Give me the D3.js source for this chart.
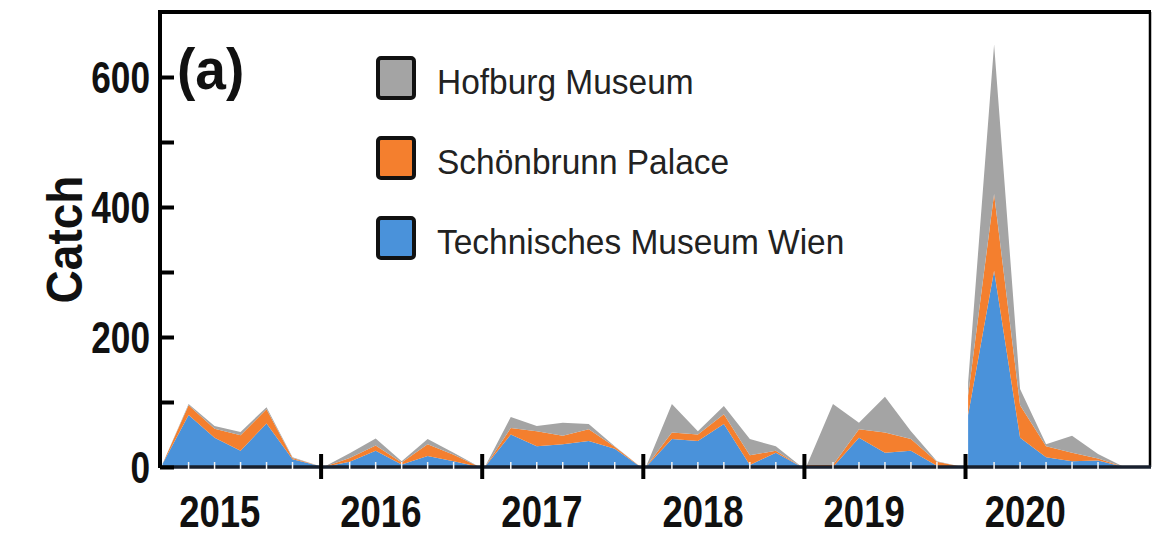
<!DOCTYPE html>
<html>
<head>
<meta charset="utf-8">
<script src="https://cdn.jsdelivr.net/npm/d3@7/dist/d3.min.js"></script>
<style>
  html, body { margin: 0; padding: 0; background: #fff; }
  svg { display: block; }
  text { font-family: "Liberation Sans", Arial, Helvetica, sans-serif; }
</style>
</head>
<body>
<svg id="chart" width="1156" height="537"></svg>
<script>
// Seasons shown on the x axis (one block of seven sampling points per year)
const years = ["2015", "2016", "2017", "2018", "2019", "2020"];
const pointsPerYear = 7;

// Catch per sampling point, one inner array per year
const technisches = [
  [5, 80, 45, 25, 67, 12, 2],
  [0, 8, 25, 4, 17, 9, 0],
  [0, 50, 32, 35, 40, 28, 0],
  [0, 43, 40, 66, 3, 22, 0],
  [0, 0, 45, 22, 25, 2, 0],
  [80, 302, 45, 15, 9, 10, 0]
];
const schoenbrunn = [
  [0, 15, 14, 24, 22, 2, 0],
  [0, 6, 8, 3, 18, 10, 0],
  [0, 10, 23, 13, 18, 3, 0],
  [0, 10, 10, 15, 15, 3, 0],
  [3, 3, 13, 31, 18, 6, 0],
  [30, 118, 50, 17, 13, 3, 0]
];
const hofburg = [
  [0, 2, 4, 5, 3, 1, 0],
  [0, 7, 11, 2, 8, 3, 0],
  [0, 17, 8, 20, 8, 1, 0],
  [0, 44, 5, 13, 25, 7, 0],
  [0, 94, 10, 55, 12, 1, 0],
  [20, 230, 25, 3, 26, 7, 0]
];

const seriesNames = ["Hofburg Museum", "Schönbrunn Palace", "Technisches Museum Wien"];
const seriesKeys = ["tech", "schoen", "hof"];
const colors = { hof: "#a4a4a4", schoen: "#f47f2e", tech: "#4a92da" };

const yTicks = [0, 100, 200, 300, 400, 500, 600];
const yLabelled = [0, 200, 400, 600];

const svg = d3.select("#chart");

// Layout
const mLeft = 160, mRight = 1150, mTop = 12, mBottom = 467;
const yearStep = 6.2;           // slot units per year block (includes the winter gap)

const x = d3.scaleLinear().domain([-0.1, 38]).range([mLeft, mRight]);
const y = d3.scaleLinear().domain([0, 700]).range([mBottom, mTop]);
const slot = (yi, i) => yi * yearStep + i;

// Stacked areas, drawn year by year so the blocks stay separate
const stack = d3.stack().keys(seriesKeys);
const area = d3.area()
  .x(d => x(slot(d.data.yi, d.data.i)))
  .y0(d => y(d[0]))
  .y1(d => y(d[1]));

const plot = svg.append("g");
years.forEach((yr, yi) => {
  const rows = d3.range(pointsPerYear).map(i => ({
    yi, i,
    tech: technisches[yi][i],
    schoen: schoenbrunn[yi][i],
    hof: hofburg[yi][i]
  }));
  const layers = stack(rows);
  plot.append("g").selectAll("path")
    .data(layers)
    .join("path")
    .attr("d", area)
    .attr("fill", d => colors[d.key]);
});

// Frame: top and right borders
svg.append("line")
  .attr("x1", mLeft - 2).attr("x2", mRight + 1)
  .attr("y1", mTop).attr("y2", mTop)
  .attr("stroke", "#000").attr("stroke-width", 4);
svg.append("line")
  .attr("x1", mRight).attr("x2", mRight)
  .attr("y1", mTop).attr("y2", mBottom)
  .attr("stroke", "#000").attr("stroke-width", 2.5);

// X axis baseline
svg.append("line")
  .attr("x1", mLeft).attr("x2", mRight + 1)
  .attr("y1", mBottom).attr("y2", mBottom)
  .attr("stroke", "#18202e").attr("stroke-width", 3.5);

// Light tick marks at the interior sampling points
const minor = [];
years.forEach((yr, yi) => { for (let i = 1; i < pointsPerYear - 1; i++) minor.push(slot(yi, i)); });
svg.append("g").selectAll("line")
  .data(minor)
  .join("line")
  .attr("x1", d => x(d)).attr("x2", d => x(d))
  .attr("y1", mBottom - 5).attr("y2", mBottom + 2)
  .attr("stroke", "#f4f4f4").attr("stroke-width", 1.5);

// Year separators
svg.append("g").selectAll("line")
  .data(d3.range(1, years.length))
  .join("line")
  .attr("x1", d => x(slot(d, 0) - 0.1)).attr("x2", d => x(slot(d, 0) - 0.1))
  .attr("y1", mBottom - 13).attr("y2", mBottom + 12)
  .attr("stroke", "#000").attr("stroke-width", 4);

// Year labels
svg.append("g").selectAll("text")
  .data(years)
  .join("text")
  .attr("transform", (d, i) => `translate(${x(slot(i, 2.2))},${527}) scale(0.83,1)`)
  .attr("text-anchor", "middle")
  .attr("font-size", 44)
  .attr("font-weight", "bold")
  .attr("fill", "#111")
  .text(d => d);

// Y axis with inward ticks
const yAxis = d3.axisLeft(y)
  .tickValues(yTicks)
  .tickSize(-14)
  .tickPadding(10)
  .tickFormat(d => yLabelled.includes(d) ? d : "");
const yG = svg.append("g")
  .attr("transform", `translate(${mLeft},0)`)
  .call(yAxis);
yG.select(".domain").remove();
yG.selectAll(".tick line").attr("stroke", "#000").attr("stroke-width", 4);
yG.selectAll(".tick text")
  .attr("font-size", 44)
  .attr("font-weight", "bold")
  .attr("fill", "#111")
  .attr("dy", "0.36em")
  .attr("font-family", "'Liberation Sans', Arial, sans-serif")
  .attr("transform", "translate(-10,0) scale(0.8,1)")
  .attr("x", 0);

svg.append("line")
  .attr("x1", mLeft).attr("x2", mLeft)
  .attr("y1", mTop - 2).attr("y2", mBottom + 1)
  .attr("stroke", "#000").attr("stroke-width", 4);

// Y axis title
svg.append("text")
  .attr("transform", `translate(82,${(mTop + mBottom) / 2}) rotate(-90) scale(0.92,1)`)
  .attr("text-anchor", "middle")
  .attr("font-size", 50)
  .attr("font-weight", "bold")
  .attr("fill", "#111")
  .text("Catch");

// Panel tag
svg.append("text")
  .attr("transform", "translate(177,89) scale(0.95,1)")
  .attr("font-size", 58)
  .attr("font-weight", "bold")
  .attr("fill", "#111")
  .text("(a)");

// Legend
const legendKeys = ["hof", "schoen", "tech"];
const lg = svg.append("g").attr("transform", "translate(378,58)");
const rowH = 80;
lg.selectAll("rect")
  .data(legendKeys)
  .join("rect")
  .attr("x", 0).attr("y", (d, i) => i * rowH)
  .attr("width", 36).attr("height", 40)
  .attr("rx", 3)
  .attr("fill", d => colors[d])
  .attr("stroke", "#111").attr("stroke-width", 4);
lg.selectAll("text")
  .data(seriesNames)
  .join("text")
  .attr("transform", (d, i) => `translate(59,${i * rowH + 36}) scale(0.93,1)`)
  .attr("font-size", 36)
  .attr("fill", "#222")
  .text(d => d);
</script>
</body>
</html>
